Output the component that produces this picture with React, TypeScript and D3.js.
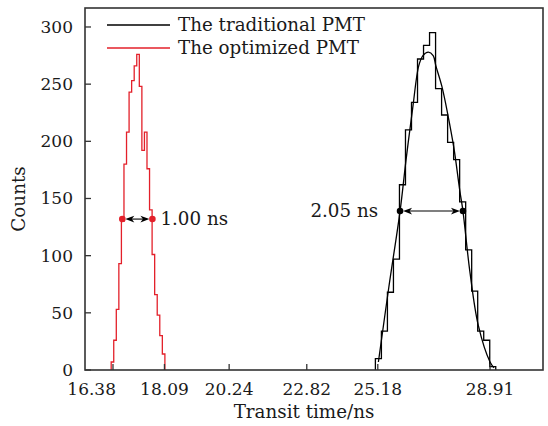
import React from "react";
import * as d3 from "d3";

// ---- data ----
const xTickValues = [16.38, 18.09, 20.24, 22.82, 25.18, 28.91];
const yTickValues = [0, 50, 100, 150, 200, 250, 300];

// optimized PMT histogram (red)
const redStart = 16.32;
const redBinWidth = 0.085;
const redCounts = [7, 26, 53, 93, 130, 180, 208, 243, 253, 266, 276, 248, 192, 208, 176, 140, 101, 66, 48, 30, 14];

// traditional PMT histogram (black)
const blackStart = 25.1;
const blackBinWidth = 0.2;
const blackCounts = [10, 34, 68, 97, 162, 210, 234, 272, 284, 295, 246, 223, 199, 184, 147, 105, 69, 34, 26, 3];

// fit curve for the traditional PMT
const fitTimes = [25.2, 25.55, 25.92, 26.12, 26.34, 26.54, 26.68, 26.86, 27.02, 27.11, 27.31, 27.51, 27.71, 27.91, 28.01, 28.24, 28.52, 28.91, 29.04];
const fitCounts = [7, 73, 139, 184, 229, 266, 275, 278, 275, 266, 248, 223, 194, 156, 139, 86, 39, 7, 2];

// FWHM markers
const redFwhm = [16.69, 17.69];
const redHalf = 132;
const blackFwhm = [25.92, 28.01];
const blackHalf = 139;

const legendLabels = ["The traditional PMT", "The optimized PMT"];
const redLabel = "1.00 ns";
const blackLabel = "2.05 ns";

const W = 548;
const H = 426;
const L = 85, R = 543, T = 8, B = 370;
const FONT = "'DejaVu Serif', serif";
const RED = "#e3202a";
const TXT = "#1a1a1a";

function histPath(start: number, width: number, counts: number[], x: any, y: any) {
  const pts: [number, number][] = [];
  pts.push([start, 0]);
  counts.forEach((c, i) => {
    pts.push([start + i * width, c]);
    pts.push([start + (i + 1) * width, c]);
  });
  pts.push([start + counts.length * width, 0]);
  return d3.line<[number, number]>().x(d => x(d[0])).y(d => y(d[1]))(pts) || "";
}

function arrowHead(tipX: number, yy: number, dir: number) {
  // dir = -1 points left, +1 points right
  const b = tipX - dir * 9;
  const n = tipX - dir * 6.5;
  return `M${tipX},${yy} L${b},${yy - 3.4} L${n},${yy} L${b},${yy + 3.4} Z`;
}

export default function App() {
  const x = d3.scaleLinear().domain([15.45, 30.67]).range([L, R]);
  const y = d3.scaleLinear().domain([0, 316.6]).range([B, T]);

  const fitLine = d3.line<number>()
    .x((_, i) => x(fitTimes[i]))
    .y(d => y(d))
    .curve(d3.curveCatmullRom.alpha(0.5))(fitCounts) || "";

  const fs = 17;
  const fsT = 18.3;

  return (
    <svg width={W} height={H} style={{ position: "absolute", left: 0, top: 0, background: "#fff" }} fontFamily={FONT}>
      {/* histograms */}
      <path d={histPath(redStart, redBinWidth, redCounts, x, y)} fill="none" stroke={RED} strokeWidth={1.3} />
      <path d={histPath(blackStart, blackBinWidth, blackCounts, x, y)} fill="none" stroke="#000" strokeWidth={1.3} />
      <path d={fitLine} fill="none" stroke="#000" strokeWidth={1.3} />

      {/* FWHM markers */}
      {[
        { f: redFwhm, h: redHalf, c: RED },
        { f: blackFwhm, h: blackHalf, c: "#000" },
      ].map((m, i) => {
        const x0 = x(m.f[0]);
        const x1 = x(m.f[1]);
        const yy = y(m.h);
        return (
          <g key={i}>
            <line x1={x0 + 6} x2={x1 - 6} y1={yy} y2={yy} stroke="#000" strokeWidth={1.1} />
            <path d={arrowHead(x0 + 3, yy, -1)} fill="#000" />
            <path d={arrowHead(x1 - 3, yy, 1)} fill="#000" />
            <circle cx={x0} cy={yy} r={3.3} fill={m.c} />
            <circle cx={x1} cy={yy} r={3.3} fill={m.c} />
          </g>
        );
      })}
      <text x={x(redFwhm[1]) + 8} y={y(redHalf) + 6} fontSize={fsT} fill={TXT}>{redLabel}</text>
      <text x={x(blackFwhm[0]) - 22} y={y(blackHalf) + 6} fontSize={fsT} fill={TXT} textAnchor="end">{blackLabel}</text>

      {/* frame */}
      <rect x={L} y={T} width={R - L} height={B - T} fill="none" stroke="#333" strokeWidth={1.6} />

      {/* y ticks */}
      {yTickValues.map(v => (
        <g key={"y" + v}>
          <line x1={L} x2={L + 6} y1={y(v)} y2={y(v)} stroke="#333" strokeWidth={1.3} />
          <text x={L - 12} y={y(v) + 6} fontSize={fs} textAnchor="end" fill={TXT}>{v}</text>
        </g>
      ))}
      {/* x ticks */}
      {xTickValues.map((v, i) => (
        <g key={"x" + v}>
          <line x1={x(v)} x2={x(v)} y1={B} y2={B - 6} stroke="#333" strokeWidth={1.3} />
          <text x={i === 0 ? x(v) + 3 : x(v)} y={B + 25} fontSize={fs} textAnchor={i === 0 ? "end" : "middle"} fill={TXT}>{v.toFixed(2)}</text>
        </g>
      ))}

      {/* axis titles */}
      <text x={304} y={418} fontSize={fsT} textAnchor="middle" fill={TXT}>Transit time/ns</text>
      <text transform={`translate(25,${(T + B) / 2 + 10}) rotate(-90)`} fontSize={fsT} textAnchor="middle" fill={TXT}>Counts</text>

      {/* legend */}
      <line x1={107} x2={170} y1={25} y2={25} stroke="#000" strokeWidth={1.3} />
      <text x={178} y={31} fontSize={fsT} fill={TXT}>{legendLabels[0]}</text>
      <line x1={107} x2={170} y1={48} y2={48} stroke={RED} strokeWidth={1.4} />
      <text x={178} y={54} fontSize={fsT} fill={TXT}>{legendLabels[1]}</text>
    </svg>
  );
}
